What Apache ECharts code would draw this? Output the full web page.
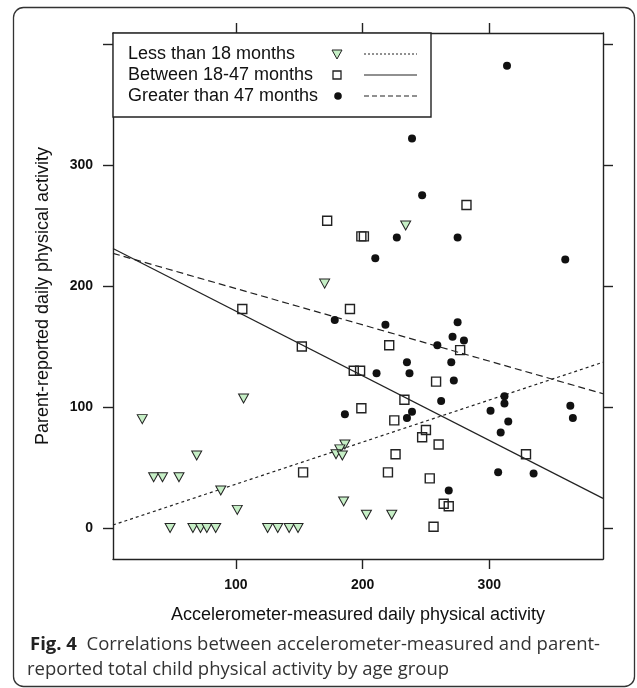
<!DOCTYPE html>
<html>
<head>
<meta charset="utf-8">
<script src="https://cdn.jsdelivr.net/npm/echarts@6/dist/echarts.min.js"></script>
<style>
  html, body { margin: 0; padding: 0; background: #fff; }
  #chart { width: 637px; height: 688px; }
</style>
</head>
<body>
<div id="chart"></div>
<script>
// ---- Data ----
const seriesNames = ['Less than 18 months', 'Between 18-47 months', 'Greater than 47 months'];

const lessThan18 = [
  [26, 90], [35, 42], [42, 42], [55, 42], [69, 60], [88, 31], [101, 15], [106, 107],
  [48, 0], [66, 0], [72, 0], [77, 0], [84, 0], [125, 0], [133, 0], [142, 0], [149, 0],
  [186, 69], [182, 65], [179, 61], [184, 60], [185, 22], [203, 11], [223, 11],
  [234, 250], [170, 202]
];

const between18to47 = [
  [172, 254], [199, 241], [201, 241], [282, 267], [105, 181], [190, 181], [152, 150],
  [221, 151], [277, 147], [193, 130], [198, 130], [258, 121], [233, 106], [199, 99],
  [225, 89], [250, 81], [247, 75], [260, 69], [226, 61], [153, 46], [220, 46],
  [253, 41], [329, 61], [264, 20], [268, 18], [256, 1]
];

const greaterThan47 = [
  [314, 382], [239, 322], [247, 275], [227, 240], [275, 240], [210, 223], [360, 222],
  [218, 168], [275, 170], [271, 158], [280, 155], [259, 151], [235, 137], [270, 137],
  [211, 128], [237, 128], [272, 122], [178, 172], [186, 94], [235, 91], [239, 96],
  [262, 105], [301, 97], [312, 109], [312, 103], [315, 88], [309, 79], [307, 46],
  [335, 45], [364, 101], [366, 91], [268, 31]
];

// fitted lines (end points)
const fitLessThan18 = [[2.9, 2.5], [389.8, 137]];
const fitBetween = [[2.9, 231], [389.8, 24.5]];
const fitGreater = [[2.9, 227], [389.8, 111]];

const xTicks = [100, 200, 300];
const yTicks = [0, 100, 200, 300, 400];
const yTickLabels = [0, 100, 200, 300];

const xName = 'Accelerometer-measured daily physical activity';
const yName = 'Parent-reported daily physical activity';
const captionBold = 'Fig. 4';
const captionLine1 = 'Correlations between accelerometer-measured and parent-';
const captionLine2 = 'reported total child physical activity by age group';

// ---- Chart ----
const chart = echarts.init(document.getElementById('chart'), null, { renderer: 'canvas' });
const AX = '#222';
const FONT = 'Liberation Sans, Arial, sans-serif';
const GRID = { left: 113, top: 33, width: 490, height: 526 };

function xAxisDef(pos, showLabels) {
  return {
    type: 'value', position: pos, min: 2.9, max: 389.8,
    name: showLabels ? xName : '', nameLocation: 'middle', nameGap: 47,
    nameTextStyle: { fontFamily: FONT, fontSize: 18, color: '#111' },
    axisLine: { show: true, onZero: false, lineStyle: { color: AX, width: 1.4 } },
    axisTick: { show: true, inside: false, length: 10, customValues: xTicks, lineStyle: { color: AX, width: 1.4 } },
    axisLabel: { show: showLabels, customValues: xTicks, margin: 19, fontFamily: FONT, fontSize: 14, fontWeight: 'bold', color: '#111' },
    splitLine: { show: false }
  };
}
function yAxisDef(pos, showLabels) {
  return {
    type: 'value', position: pos, min: -25.6, max: 409.1,
    name: showLabels ? yName : '', nameLocation: 'middle', nameGap: 61, nameRotate: 90,
    nameTextStyle: { fontFamily: FONT, fontSize: 18, color: '#111' },
    axisLine: { show: true, onZero: false, lineStyle: { color: AX, width: 1.4 } },
    axisTick: { show: true, inside: false, length: 10, customValues: yTicks, lineStyle: { color: AX, width: 1.4 } },
    axisLabel: { show: showLabels, customValues: yTickLabels, margin: 20, fontFamily: FONT, fontSize: 14, fontWeight: 'bold', color: '#111' },
    splitLine: { show: false }
  };
}

const legendRows = [54, 75, 96];
const legendGraphics = [
  { type: 'rect', z: 100, shape: { x: 113, y: 33, width: 318, height: 84 },
    style: { fill: '#fff', stroke: AX, lineWidth: 1.4 } }
];
seriesNames.forEach((n, i) => {
  legendGraphics.push({ type: 'text', z: 101, x: 128, y: legendRows[i],
    style: { text: n, fontFamily: FONT, fontSize: 18, fill: '#111', verticalAlign: 'middle', align: 'left' } });
});
legendGraphics.push(
  { type: 'polygon', z: 101, shape: { points: [[332, 50], [342, 50], [337, 59]] },
    style: { fill: '#c6efc6', stroke: '#222', lineWidth: 1 } },
  { type: 'rect', z: 101, shape: { x: 333, y: 71, width: 8, height: 8 },
    style: { fill: 'none', stroke: '#222', lineWidth: 1.3 } },
  { type: 'circle', z: 101, shape: { cx: 338, cy: 96, r: 3.8 }, style: { fill: '#111' } },
  { type: 'line', z: 101, shape: { x1: 364, y1: 54, x2: 417, y2: 54 },
    style: { stroke: '#222', lineWidth: 1, lineDash: [2, 2] } },
  { type: 'line', z: 101, shape: { x1: 364, y1: 75, x2: 417, y2: 75 },
    style: { stroke: '#222', lineWidth: 1.2 } },
  { type: 'line', z: 101, shape: { x1: 364, y1: 96, x2: 417, y2: 96 },
    style: { stroke: '#222', lineWidth: 1.2, lineDash: [5, 3] } },
  { type: 'rect', z: -1, shape: { x: 13.5, y: 7.5, width: 621, height: 679, r: 10 },
    style: { fill: 'none', stroke: '#333', lineWidth: 1.3 } }
);

const CAP_FONT = 'Open Sans, Noto Sans, sans-serif';
const option = {
  animation: false,
  backgroundColor: '#fff',
  grid: GRID,
  title: [
    { text: '{b|' + captionBold + '}  {n|' + captionLine1 + '}', left: 30, top: 633, padding: 0,
      textStyle: { fontWeight: 'normal', fontFamily: CAP_FONT, fontSize: 18.5, color: '#333', rich: {
        b: { fontFamily: CAP_FONT, fontWeight: 'bold', fontSize: 18.5, color: '#222', lineHeight: 24 },
        n: { fontFamily: CAP_FONT, fontWeight: 'normal', fontSize: 18.5, color: '#333', lineHeight: 24 } } } },
    { text: captionLine2, left: 27, top: 658, padding: 0,
      textStyle: { fontFamily: CAP_FONT, fontWeight: 'normal', fontSize: 18.5, color: '#333', lineHeight: 24 } }
  ],
  xAxis: [xAxisDef('bottom', true), xAxisDef('top', false)],
  yAxis: [yAxisDef('left', true), yAxisDef('right', false)],
  graphic: legendGraphics,
  series: [
    { name: seriesNames[0] + ' fit', type: 'line', data: fitLessThan18, symbol: 'none', z: 2,
      lineStyle: { color: '#222', width: 1.2, type: [3, 3] } },
    { name: seriesNames[1] + ' fit', type: 'line', data: fitBetween, symbol: 'none', z: 2,
      lineStyle: { color: '#222', width: 1.2, type: 'solid' } },
    { name: seriesNames[2] + ' fit', type: 'line', data: fitGreater, symbol: 'none', z: 2,
      lineStyle: { color: '#222', width: 1.2, type: [7, 4] } },
    { name: seriesNames[0], type: 'scatter', data: lessThan18, symbol: 'triangle', symbolRotate: 180,
      symbolSize: [10, 9], z: 3,
      itemStyle: { color: '#c6efc6', borderColor: '#222', borderWidth: 1, opacity: 1 } },
    { name: seriesNames[1], type: 'scatter', data: between18to47, symbol: 'rect', symbolSize: 9, z: 3,
      itemStyle: { color: 'rgba(255,255,255,0)', borderColor: '#222', borderWidth: 1.4, opacity: 1 } },
    { name: seriesNames[2], type: 'scatter', data: greaterThan47, symbol: 'circle', symbolSize: 8, z: 3,
      itemStyle: { color: '#111', opacity: 1 } }
  ]
};
chart.setOption(option);
</script>
</body>
</html>
